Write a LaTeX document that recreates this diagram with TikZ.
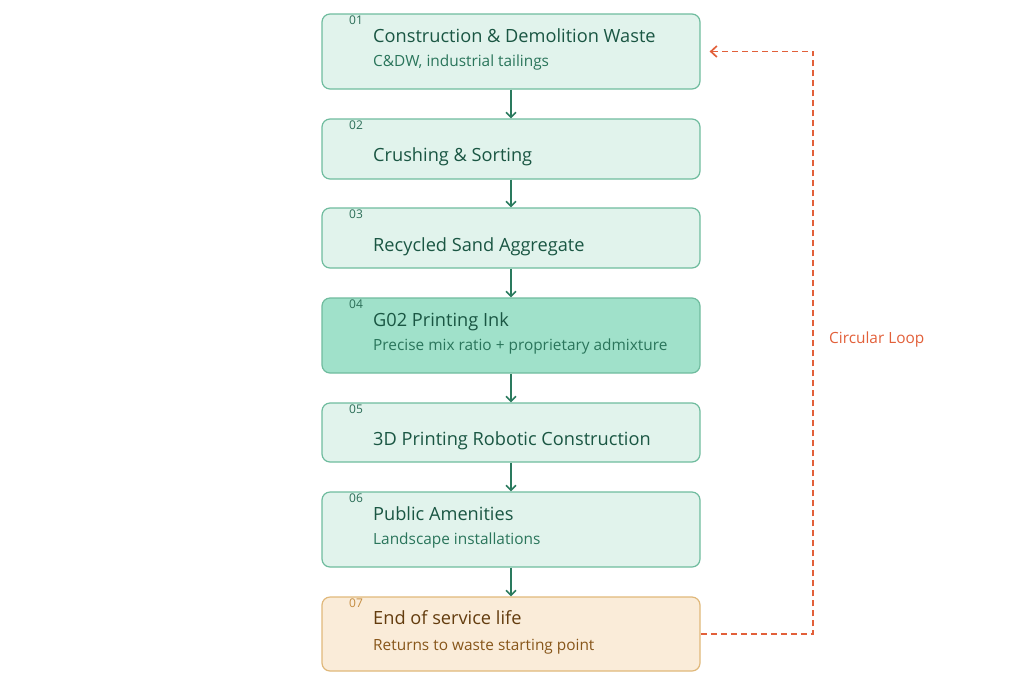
\documentclass[tikz,border=0pt]{standalone}
\usepackage{fontspec}
\setmainfont{Open Sans}
\usetikzlibrary{arrows.meta,calc}
\definecolor{gfill}{HTML}{E1F3EC}
\definecolor{gdraw}{HTML}{6FBC9E}
\definecolor{hfill}{HTML}{A0E1CA}
\definecolor{gtitle}{HTML}{1A5643}
\definecolor{gsub}{HTML}{2A755B}
\definecolor{gnum}{HTML}{2C6E58}
\definecolor{arr}{HTML}{2A7A5E}
\definecolor{ofill}{HTML}{FAECD9}
\definecolor{odraw}{HTML}{E0B87A}
\definecolor{otitle}{HTML}{633C0E}
\definecolor{osub}{HTML}{87561A}
\definecolor{onum}{HTML}{C48C40}
\definecolor{loop}{HTML}{E2603A}
\tikzset{
  x=1pt,y=-1pt,
  box/.style={draw=gdraw,fill=gfill,rounded corners=8pt,line width=1.2pt,minimum width=378pt,inner sep=0pt},
  hbox/.style={box,fill=hfill},
  obox/.style={box,draw=odraw,fill=ofill},
  ttl/.style={anchor=base west,inner sep=0pt,text=gtitle,font=\fontsize{18.2}{20}\selectfont},
  sub/.style={anchor=base west,inner sep=0pt,text=gsub,font=\fontsize{15.4}{17}\selectfont},
  num/.style={anchor=base west,inner sep=0pt,text=gnum,font=\fontsize{12}{13}\selectfont},
  flow/.style={draw=arr,line width=1.6pt,-{Straight Barb[length=5pt,width=10pt,line width=1.6pt]}},
  looparr/.style={draw=loop,line width=1.7pt,dash pattern=on 6pt off 4pt,-{Straight Barb[length=6pt,width=11pt,line width=1.7pt]}}
}
\begin{document}
\begin{tikzpicture}
\useasboundingbox (0,0) rectangle (1024,694);
% boxes
\node[box,minimum height=75pt] (b1) at (511,51.5) {};
\node[box,minimum height=60pt] (b2) at (511,149) {};
\node[box,minimum height=60pt] (b3) at (511,238) {};
\node[hbox,minimum height=75pt] (b4) at (511,335.5) {};
\node[box,minimum height=59pt] (b5) at (511,432.5) {};
\node[box,minimum height=75pt] (b6) at (511,529.5) {};
\node[obox,minimum height=74pt] (b7) at (511,634) {};
% numbers
\node[num] (n1) at (349,24) {01};
\node[num] (n2) at (349,129) {02};
\node[num] (n3) at (349,218) {03};
\node[num] (n4) at (349,308) {04};
\node[num] (n5) at (349,413) {05};
\node[num] (n6) at (349,502) {06};
\node[num,text=onum] (n7) at (349,607) {07};
% titles
\node[ttl] (t1) at (373,42) {Construction \& Demolition Waste};
\node[sub] (s1) at (373,66.7) {C\&DW, industrial tailings};
\node[ttl] (t2) at (373,161) {Crushing \& Sorting};
\node[ttl] (t3) at (373,251) {Recycled Sand Aggregate};
\node[ttl] (t4) at (373,326) {G02 Printing Ink};
\node[sub] (s4) at (373,350.7) {Precise mix ratio + proprietary admixture};
\node[ttl] (t5) at (373,445) {3D Printing Robotic Construction};
\node[ttl] (t6) at (373,520) {Public Amenities};
\node[sub] (s6) at (373,544.7) {Landscape installations};
\node[ttl,text=otitle] (t7) at (373,624.3) {End of service life};
\node[sub,text=osub] (s7) at (373,650) {Returns to waste starting point};
% flow arrows
\draw[flow] (b1.south) -- (b2.north);
\draw[flow] (b2.south) -- (b3.north);
\draw[flow] (b3.south) -- (b4.north);
\draw[flow] (b4.south) -- (b5.north);
\draw[flow] (b5.south) -- (b6.north);
\draw[flow] (b6.south) -- (b7.north);
% loop
\coordinate (lc) at (813,0);
\draw[looparr] (b7.east) -- (b7.east -| lc) -- (b1.east -| lc) -- ($(b1.east)+(9,0)$);
\node[anchor=base west,inner sep=0pt,text=loop,font=\fontsize{15.4}{17}\selectfont] (lbl) at (829,343.5) {Circular Loop};
\end{tikzpicture}
\end{document}
